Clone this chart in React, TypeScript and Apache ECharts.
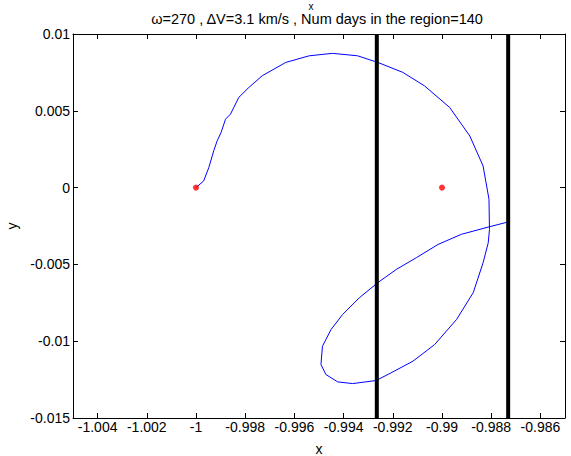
import React, { useEffect, useRef } from "react";
import * as echarts from "echarts";

const curveX = [
  -1.0, -0.99969, -0.99948, -0.99928, -0.99914, -0.99898, -0.9988, -0.9986, -0.99826, -0.99785,
  -0.99731, -0.99635, -0.9954, -0.99445, -0.99343, -0.99261, -0.99159, -0.99071, -0.98969, -0.98887,
  -0.98833, -0.98809, -0.98807, -0.98812, -0.98833, -0.98873, -0.98941, -0.9903, -0.99118, -0.99207,
  -0.99268, -0.99363, -0.99424, -0.99472, -0.99492, -0.99486, -0.99451, -0.99404, -0.99336, -0.99261,
  -0.99186, -0.99104, -0.99016, -0.98921, -0.98805, -0.98732,
];
const curveY = [
  0.0, 0.00043, 0.0013, 0.00239, 0.00304, 0.00359, 0.00445, 0.00478, 0.00587, 0.00652,
  0.00728, 0.00815, 0.00858, 0.00874, 0.00858, 0.00815, 0.0075, 0.00662, 0.00522, 0.00336,
  0.00141, -0.00076, -0.00272, -0.00359, -0.00489, -0.00684, -0.00859, -0.01022, -0.0113, -0.01206,
  -0.01256, -0.01276, -0.01265, -0.01217, -0.01152, -0.01033, -0.00924, -0.00826, -0.00717, -0.00619,
  -0.00533, -0.00456, -0.0037, -0.00304, -0.00254, -0.00224,
];
const boundaryX = [-0.99265, -0.98731];
const pointX = [-1.0, -0.99];
const pointY = [0, 0];

const xMin = -1.005;
const xMax = -0.985;
const yMin = -0.015;
const yMax = 0.01;
const yStep = 0.005;

const titleText = "ω=270 , ΔV=3.1 km/s , Num days in the region=140";
const FONT = "Liberation Sans, Arial, sans-serif";

export default function App() {
  const ref = useRef<HTMLDivElement>(null);
  useEffect(() => {
    document.body.style.margin = "0";
    if (!ref.current) return;
    const chart = echarts.init(ref.current, null, { renderer: "svg" });
    const axisLine = { show: true, onZero: false, lineStyle: { color: "#000", width: 1 } };
    const tick = { show: true, inside: true, length: 5, lineStyle: { color: "#000", width: 1 } };
    const label = { color: "#000", fontFamily: FONT, fontSize: 14 };
    const curve = curveX.map((x, i) => [x, curveY[i]]);
    const boundarySeries = boundaryX.map((bx, i) => ({
      type: "line",
      name: "boundary" + i,
      data: [
        [bx, yMin],
        [bx, yMax],
      ],
      showSymbol: false,
      lineStyle: { color: "#000", width: 4 },
      z: 3,
      silent: true,
    }));
    chart.setOption({
      animation: false,
      backgroundColor: "#fff",
      grid: { left: 73, right: 6, top: 34, bottom: 38, containLabel: false, outerBoundsMode: "none" },
      xAxis: [
        {
          type: "value",
          min: xMin,
          max: xMax,
          splitNumber: 10,
          position: "bottom",
          axisLine,
          axisTick: tick,
          axisLabel: { ...label, margin: 2, showMinLabel: false, showMaxLabel: false },
          splitLine: { show: false },
          name: "x",
          nameLocation: "middle",
          nameGap: 24,
          nameTextStyle: { color: "#000", fontFamily: FONT, fontSize: 14 },
        },
        {
          type: "value",
          min: xMin,
          max: xMax,
          splitNumber: 10,
          position: "top",
          axisLine,
          axisTick: tick,
          axisLabel: { show: false },
          splitLine: { show: false },
        },
      ],
      yAxis: [
        {
          type: "value",
          min: yMin,
          max: yMax,
          interval: yStep,
          position: "left",
          axisLine,
          axisTick: tick,
          axisLabel: { ...label, margin: 3 },
          splitLine: { show: false },
          name: "y",
          nameLocation: "middle",
          nameRotate: 90,
          nameGap: 46,
          nameTextStyle: { color: "#000", fontFamily: FONT, fontSize: 14 },
        },
        {
          type: "value",
          min: yMin,
          max: yMax,
          interval: yStep,
          position: "right",
          axisLine,
          axisTick: tick,
          axisLabel: { show: false },
          splitLine: { show: false },
        },
      ],
      graphic: [
        {
          type: "text",
          x: 317,
          y: 18.5,
          style: {
            text: titleText,
            textAlign: "center",
            textVerticalAlign: "middle",
            fontFamily: FONT,
            fontSize: 14.5,
            fill: "#000",
          },
        },
        {
          type: "text",
          x: 311,
          y: 1,
          style: {
            text: "x",
            textAlign: "center",
            textVerticalAlign: "top",
            fontFamily: FONT,
            fontSize: 10,
            lineHeight: 10,
            fill: "#000",
          },
        },
      ],
      series: [
        {
          type: "line",
          name: "trajectory",
          data: curve,
          showSymbol: false,
          lineStyle: { color: "#0000ff", width: 1 },
          z: 2,
          silent: true,
        },
        ...boundarySeries,
        {
          type: "scatter",
          name: "points",
          data: pointX.map((x, i) => [x, pointY[i]]),
          symbolSize: 6,
          itemStyle: { color: "#ff0000" },
          z: 4,
          silent: true,
        },
      ],
    });
    return () => chart.dispose();
  }, []);
  return <div ref={ref} style={{ width: 571, height: 456 }} />;
}
